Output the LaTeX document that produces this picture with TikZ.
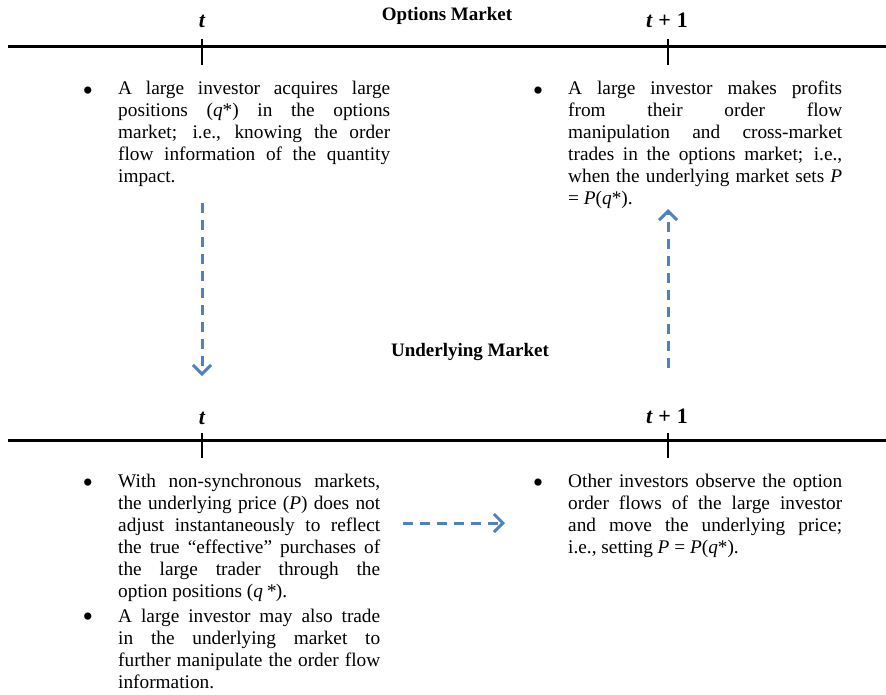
\documentclass[tikz,border=0pt]{standalone}
\usepackage{fontspec}
\setmainfont{Liberation Serif}
\usetikzlibrary{arrows.meta}
\definecolor{flowblue}{HTML}{4F81BD}
\tikzset{
  axis/.style={line width=3pt,black},
  tick/.style={line width=2.5pt,black},
  flow/.style={flowblue,line width=3pt,dash pattern=on 10pt off 7pt,-{Straight Barb[length=9pt,width=18pt,line width=3pt]}},
  tlabel/.style={font=\fontsize{22}{24}\selectfont\bfseries\itshape,inner sep=0pt},
  title/.style={font=\fontsize{19}{22}\selectfont\bfseries,inner sep=0pt},
  bul/.style={font=\fontsize{30}{30}\selectfont,inner sep=0pt},
  body/.style={font=\fontsize{19.3}{22}\selectfont,inner sep=0pt,anchor=north west,align=justify}
}
\begin{document}
\begin{tikzpicture}[x=1pt,y=-1pt]
\useasboundingbox (0,0) rectangle (886,694);
% top axis
\coordinate (L1a) at (8,46); \coordinate (L1b) at (886,46);
\draw[axis] (L1a) -- (L1b);
\coordinate (T1a) at (202,39); \coordinate (T1b) at (202,65);
\coordinate (T2a) at (668,39); \coordinate (T2b) at (668,65);
\draw[tick] (T1a) -- (T1b);
\draw[tick] (T2a) -- (T2b);
\node[tlabel] (lt1) at (202,21) {t};
\node[tlabel] (lt2) at (667,20) {t\;\upshape+\;1};
\node[title] (opt) at (447,16) {Options Market};
% bottom axis
\coordinate (L2a) at (8,440); \coordinate (L2b) at (886,440);
\draw[axis] (L2a) -- (L2b);
\coordinate (T3a) at (202,433); \coordinate (T3b) at (202,458);
\coordinate (T4a) at (668,433); \coordinate (T4b) at (668,458);
\draw[tick] (T3a) -- (T3b);
\draw[tick] (T4a) -- (T4b);
\node[tlabel] (lt3) at (202,418) {t};
\node[tlabel] (lt4) at (667,416) {t\;\upshape+\;1};
\node[title] (und) at (470,352) {Underlying Market};
% top-left text
\node[bul] (b1) at (88,94) {\textbullet};
\node[body,text width=272pt] (tx1) at (118,81) {A large investor acquires large\linebreak positions (\textit{q}*) in the options\linebreak market; i.e., knowing the order\linebreak flow information of the quantity\linebreak impact.};
% top-right text
\node[bul] (b2) at (538,94) {\textbullet};
\node[body,text width=274pt] (tx2) at (568,81) {A large investor makes profits\linebreak from their order flow\linebreak manipulation and cross-market\linebreak trades in the options market; i.e.,\linebreak when the underlying market sets \textit{P}\linebreak = \textit{P}(\textit{q}*).};
% bottom-left text
\node[bul] (b3) at (88,486) {\textbullet};
\node[body,text width=262pt] (tx3) at (118,474) {With non-synchronous markets,\linebreak the underlying price (\textit{P}) does not\linebreak adjust instantaneously to reflect\linebreak the true “effective” purchases of\linebreak the large trader through the\linebreak option positions (\textit{q\,*}).};
\node[bul] (b4) at (88,620) {\textbullet};
\node[body,text width=262pt] (tx4) at (118,609) {A large investor may also trade\linebreak in the underlying market to\linebreak further manipulate the order flow\linebreak information.};
% bottom-right text
\node[bul] (b5) at (538,486) {\textbullet};
\node[body,text width=274pt] (tx5) at (568,474) {Other investors observe the option\linebreak order flows of the large investor\linebreak and move the underlying price;\linebreak i.e., setting \textit{P} = \textit{P}(\textit{q}*).};
% arrows
\coordinate (a1s) at (202,203); \coordinate (a1e) at (202,376);
\coordinate (a2s) at (668,368); \coordinate (a2e) at (668,209);
\coordinate (a3s) at (403,523); \coordinate (a3e) at (505,523);
\draw[flow] (a1s) -- (a1e);
\draw[flow] (a2s) -- (a2e);
\draw[flow] (a3s) -- (a3e);
\end{tikzpicture}
\end{document}
